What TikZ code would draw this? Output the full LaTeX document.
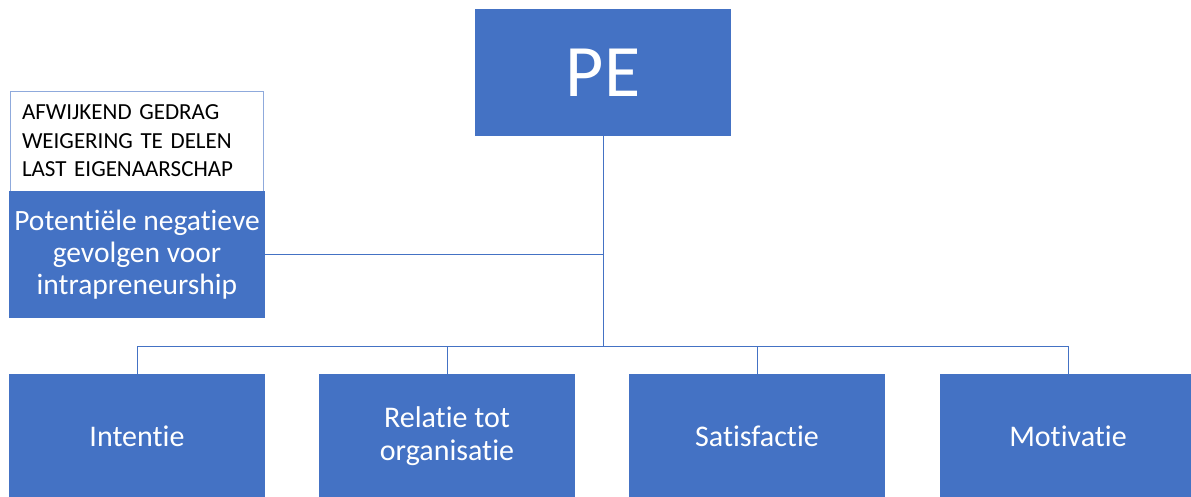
\documentclass[tikz,border=0pt]{standalone}
\usepackage{fontspec}
\setmainfont{Carlito}[Ligatures={NoCommon}]
\definecolor{boxblue}{HTML}{4472C4}
\definecolor{edgeblue}{HTML}{8FAADC}
\tikzset{
  bluebox/.style={rectangle, fill=boxblue, draw=none, text=white, align=center,
    minimum width=256pt, inner sep=0pt},
  notebox/.style={rectangle, fill=white, draw=edgeblue, line width=0.8pt,
    minimum width=253pt, minimum height=100pt, inner sep=0pt, align=left,
    text width=229pt, font=\fontsize{23}{28.5}\selectfont},
  link/.style={draw=boxblue, line width=1pt}
}
\begin{document}
\begin{tikzpicture}[x=1pt, y=-1pt]
\clip (0,0) rectangle (1191,497);
\fill[white] (0,0) rectangle (1191,497);

% top node
\node[bluebox, minimum height=127pt, font=\fontsize{74}{80}\selectfont] (pe) at (603,72.5) {PE};

% consequences box with its note above
\node[notebox] (note) at (136.5,141) {AFWIJKEND GEDRAG\\WEIGERING TE DELEN\\LAST EIGENAARSCHAP};
\node[bluebox, minimum height=127pt, font=\fontsize{29.5}{32}\selectfont] (neg) at (137,254.5)
  {Potentiële negatieve\\gevolgen voor\\intrapreneurship};

% bottom row
\foreach \n/\x/\t in {b1/137/Intentie, b2/447/{Relatie tot\\organisatie}, b3/757/Satisfactie, b4/1068/Motivatie}{
  \node[bluebox, minimum height=124pt, font=\fontsize{30}{33}\selectfont] (\n) at (\x,436) {\t};
}

% connectors
\coordinate (hub) at (603,346);
\draw[link] (pe.south) -- (hub);
\draw[link] (neg.east) -- (neg.east -| pe.south);
\draw[link] (hub) -| (b1.north);
\draw[link] (hub) -| (b2.north);
\draw[link] (hub) -| (b3.north);
\draw[link] (hub) -| (b4.north);
\end{tikzpicture}
\end{document}
